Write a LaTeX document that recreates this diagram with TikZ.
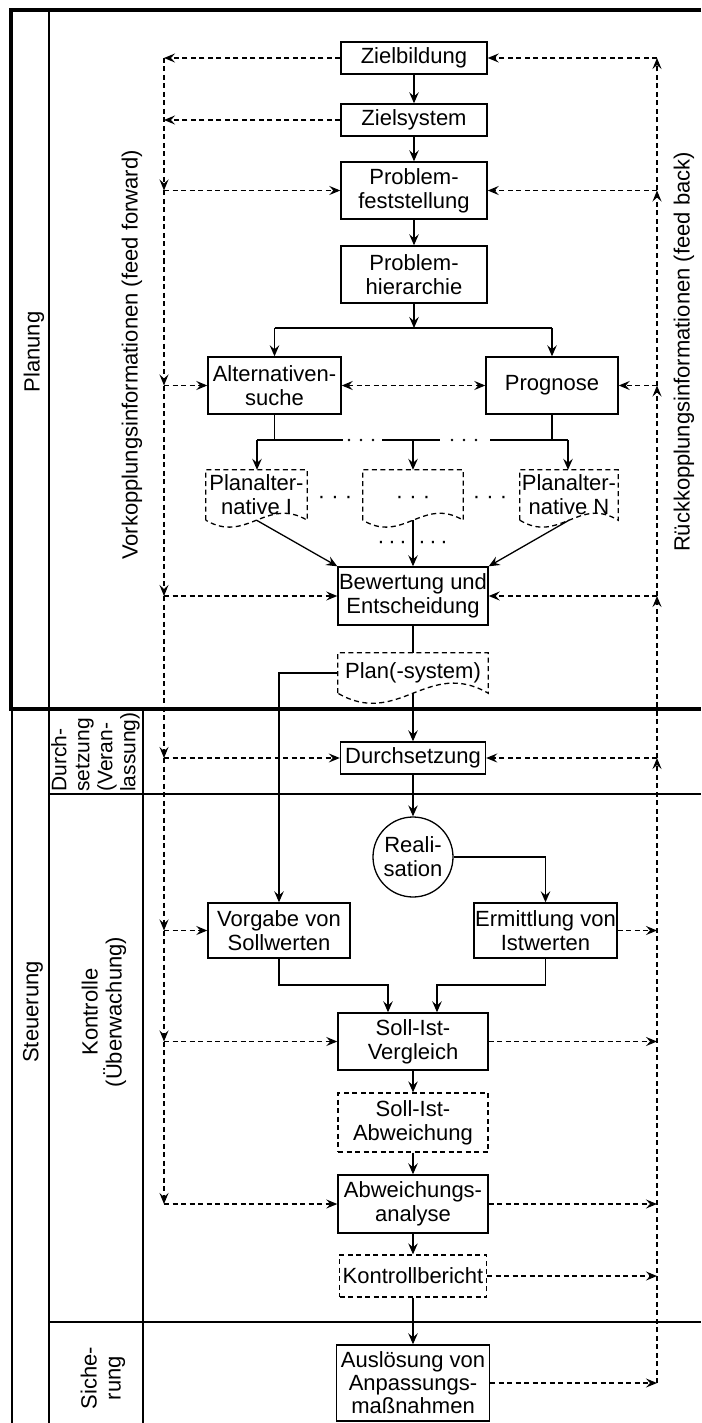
\documentclass[tikz,border=0pt]{standalone}
\usepackage{fontspec}
\setmainfont{Liberation Sans}
\usetikzlibrary{arrows.meta,calc}
\newcommand\bxfont{\fontsize{22}{24}\selectfont}
\newcommand\smfont{\fontsize{21}{23}\selectfont}
\begin{document}
\begin{tikzpicture}[x=1pt,y=-1pt,
  every node/.style={font=\bxfont},
  box/.style={draw, line width=1.4pt, align=center, inner sep=0pt},
  dbox/.style={box, line width=1.3pt, dash pattern=on 5pt off 3.5pt},
  doc/.style={align=center, inner sep=0pt},
  docline/.style={line width=1.3pt, dash pattern=on 5pt off 3.5pt},
  link/.style={line width=1.3pt},
  flow/.style={link, -{Stealth[length=11pt,width=9.5pt,inset=4pt]}},
  infoline/.style={line width=1.25pt, dash pattern=on 5pt off 3.5pt},
  info/.style={infoline, -{Stealth[length=11pt,width=9pt,inset=4pt]}},
  infoboth/.style={infoline, {Stealth[length=11pt,width=9pt,inset=4pt]}-{Stealth[length=11pt,width=9pt,inset=4pt]}},
  lane/.style={rotate=90, align=center, inner sep=0pt},
  dots/.style={anchor=base, inner sep=0pt},
]
\fill[white] (0,0) rectangle (701,1423);
\useasboundingbox (0,0) rectangle (701,1423);

% frame and lanes
\draw[line width=4.5pt, line join=miter] (701,10) -- (11,10) -- (11,709) -- (701,709);
\draw[line width=2.5pt] (49,10) -- (49,709);
\draw[line width=1.5pt] (12,709) -- (12,1423) (49,709) -- (49,1423) (143,709) -- (143,1423);
\draw[line width=1.3pt] (49,794) -- (701,794) (49,1322) -- (701,1322);

\node[lane] (lplan) at (34,352) {Planung};
\node[lane] (lsteu) at (33,1012) {Steuerung};
\node[lane] (lkon) at (104,1012) {Kontrolle\\(Überwachung)};
\node[lane, font=\smfont, align=left, anchor=north west] (ldurch) at (51,792) {Durch-\\setzung\\(Veran-\\lassung)};
\node[lane] (lsich) at (103,1378) {Siche-\\rung};
\node[lane] (lff) at (132,355) {Vorkopplungsinformationen (feed forward)};
\node[lane] (lfb) at (684,352) {Rückkopplungsinformationen (feed back)};

% planning steps
\node[box, minimum width=146pt, minimum height=32pt] (zb) at (414,58) {Zielbildung};
\node[box, minimum width=146pt, minimum height=32pt] (zs) at (414,120) {Zielsystem};
\node[box, minimum width=146pt, minimum height=57pt] (pf) at (414,190.5) {Problem-\\feststellung};
\node[box, minimum width=146pt, minimum height=57pt] (ph) at (414,274.5) {Problem-\\hierarchie};
\node[box, minimum width=133pt, minimum height=57pt] (as) at (274.5,385.5) {Alternativen-\\suche};
\node[box, minimum width=132pt, minimum height=57pt] (pg) at (552,385.5) {Prognose};
\node[doc, minimum width=101pt, minimum height=50pt] (pa1) at (256.5,495) {Planalter-\\native I};
\node[doc, minimum width=100pt, minimum height=50pt] (pam) at (413,495) {};
\node[doc, minimum width=98pt, minimum height=50pt] (paN) at (569,495) {Planalter-\\native N};
\node[box, minimum width=150pt, minimum height=58pt] (bw) at (413,596) {Bewertung und\\Entscheidung};
\node[doc, minimum width=150pt, minimum height=40pt] (ps) at (413,673) {Plan(-system)};

% control steps
\node[box, minimum width=145pt, minimum height=32pt] (ds) at (413,758) {Durchsetzung};
\node[draw, circle, line width=1.3pt, minimum size=80pt, inner sep=0pt, align=center] (re) at (413,857) {Reali-\\sation};
\node[box, minimum width=142pt, minimum height=55pt] (vg) at (279,930.5) {Vorgabe von\\Sollwerten};
\node[box, minimum width=143pt, minimum height=55pt] (em) at (545.5,930.5) {Ermittlung von\\Istwerten};
\node[box, minimum width=150pt, minimum height=57pt] (sv) at (413,1041.5) {Soll-Ist-\\Vergleich};
\node[dbox, minimum width=150pt, minimum height=59pt] (sa) at (413,1122.5) {Soll-Ist-\\Abweichung};
\node[box, minimum width=150pt, minimum height=58pt] (aa) at (413,1204) {Abweichungs-\\analyse};
\node[dbox, minimum width=147pt, minimum height=42pt] (kb) at (413,1276) {Kontrollbericht};
\node[box, minimum width=153pt, minimum height=76pt, font=\fontsize{22}{23}\selectfont] (al) at (413,1383) {Auslösung von\\Anpassungs-\\maßnahmen};

% document outlines with wavy lower edge
\foreach \n/\h in {pa1/24, pam/24, paN/24, ps/35}
  \draw[docline] (\n.south west) -- (\n.north west) -- (\n.north east) -- (\n.south east)
    .. controls ($(\n.south west)!0.6!(\n.south east)+(0,-\h)$) and ($(\n.south west)!0.4!(\n.south east)+(0,\h)$) .. (\n.south west);

% ellipses
\node[dots] (dl) at (335,503) {· · ·};
\node[dots] (dm) at (413,503) {· · ·};
\node[dots] (dr) at (490,503) {· · ·};
\node[dots] (db1) at (392,548) {·\,·\,·};
\node[dots] (db2) at (433,548) {·\,·\,·};

% main flow
\draw[flow] (zb.south) -- (zs.north);
\draw[flow] (zs.south) -- (pf.north);
\draw[flow] (pf.south) -- (ph.north);
\coordinate (hb) at (414,328);
\draw[flow] (ph.south) -- (hb);
\draw[link] (as.north |- hb) -- (pg.north |- hb);
\draw[flow] (as.north |- hb) -- (as.north);
\draw[flow] (pg.north |- hb) -- (pg.north);
\draw[infoboth] (as.east) -- (pg.west);

\coordinate (h1) at (257,440);
\coordinate (h2) at (343,440);
\coordinate (h3) at (382,440);
\coordinate (h4) at (440,440);
\coordinate (h5) at (490,440);
\coordinate (h6) at (568,440);
\draw[link] (as.south) -- (as.south |- h1);
\draw[link] (pg.south) -- (pg.south |- h1);
\draw[link] (h1) -- (h2) (h3) -- (h4) (h5) -- (h6);
\foreach \x in {349,361,373,452,464,476}
  \fill (\x,440) circle (1.3pt);
\draw[flow] (h1) -- (h1 |- pa1.north);
\draw[flow] (pam.north |- h1) -- (pam.north);
\draw[flow] (h6) -- (h6 |- paN.north);

\draw[flow] (pa1.south) -- (bw.north west);
\draw[flow] (pam.south) -- (bw.north);
\draw[flow] (paN.south) -- (bw.north east);
\draw[link] (bw.south) -- (ps.north);
\draw[flow] (ps.south) -- (ds.north);
\draw[flow] (ps.west) -| (vg.north);
\draw[flow] (ds.south) -- (re.north);
\draw[flow] (re.east) -| (em.north);

\coordinate (j1) at (388,985);
\coordinate (j2) at (437,985);
\draw[flow] (vg.south) |- (j1) -- (j1 |- sv.north);
\draw[flow] (em.south) |- (j2) -- (j2 |- sv.north);
\draw[flow] (sv.south) -- (sa.north);
\draw[flow] (sa.south) -- (aa.north);
\draw[flow] (aa.south) -- (kb.north);
\draw[flow] (kb.south) -- (al.north);

% feed forward
\coordinate (FF) at (164,0);
\draw[info] (zb.west) -- (zb.west -| FF);
\draw[info] (zs.west) -- (zs.west -| FF);
\draw[info] (zb.west -| FF) -- (pf.west -| FF);
\draw[info] (pf.west -| FF) -- (pf.west);
\draw[info] (pf.west -| FF) -- (as.west -| FF);
\draw[info] (as.west -| FF) -- (as.west);
\draw[info] (as.west -| FF) -- (bw.west -| FF);
\draw[info] (bw.west -| FF) -- (bw.west);
\draw[info] (bw.west -| FF) -- (ds.west -| FF);
\draw[info] (ds.west -| FF) -- (ds.west);
\draw[info] (ds.west -| FF) -- (vg.west -| FF);
\draw[info] (vg.west -| FF) -- (vg.west);
\draw[info] (vg.west -| FF) -- (sv.west -| FF);
\draw[info] (sv.west -| FF) -- (sv.west);
\draw[info] (sv.west -| FF) -- (aa.west -| FF);
\draw[info] (aa.west -| FF) -- (aa.west);

% feed back
\coordinate (FB) at (657,0);
\draw[info] (em.east) -- (em.east -| FB);
\draw[info] (sv.east) -- (sv.east -| FB);
\draw[info] (aa.east) -- (aa.east -| FB);
\draw[info] (kb.east) -- (kb.east -| FB);
\draw[info] (al.east) -- (al.east -| FB);
\draw[info] (al.east -| FB) -- (ds.east -| FB);
\draw[info] (ds.east -| FB) -- (ds.east);
\draw[info] (ds.east -| FB) -- (bw.east -| FB);
\draw[info] (bw.east -| FB) -- (bw.east);
\draw[info] (bw.east -| FB) -- (pg.east -| FB);
\draw[info] (pg.east -| FB) -- (pg.east);
\draw[info] (pg.east -| FB) -- (pf.east -| FB);
\draw[info] (pf.east -| FB) -- (pf.east);
\draw[info] (pf.east -| FB) -- (zb.east -| FB);
\draw[info] (zb.east -| FB) -- (zb.east);
\end{tikzpicture}
\end{document}
